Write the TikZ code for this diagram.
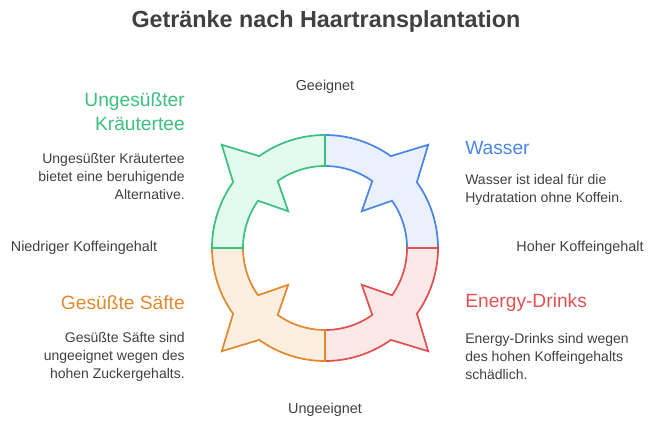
\documentclass[tikz,border=0pt]{standalone}
\usepackage{fontspec}
\setmainfont{Liberation Sans}
\usetikzlibrary{positioning, calc}
\definecolor{blueline}{HTML}{4A86E8}\definecolor{bluefill}{HTML}{EAF1FD}
\definecolor{greenline}{HTML}{3CC07F}\definecolor{greenfill}{HTML}{E3FBEE}
\definecolor{orangeline}{HTML}{E0892F}\definecolor{orangefill}{HTML}{FDEFE0}
\definecolor{redline}{HTML}{E05252}\definecolor{redfill}{HTML}{FDE8E8}
\definecolor{textgray}{HTML}{404040}
\tikzset{
  axislabel/.style={text=textgray, font=\fontsize{10.8}{12}\selectfont},
  heading/.style={font=\fontsize{14.4}{18}\selectfont, inner sep=0pt},
  desc/.style={text=textgray, font=\fontsize{10.5}{13.5}\selectfont, inner sep=0pt},
  segment/.style={line width=1.3pt, line join=miter}
}
% one quarter of the ring, #1 = angle offset
\newcommand{\ringpart}[3]{%
  \draw[segment, draw=#2, fill=#3] ($(ctr)+(#1-90:113)$)
    arc[start angle=#1-90, end angle=#1-54.4, radius=113]
    -- ($(ctr)+(#1-45:146)$) -- ($(ctr)+(#1-35.6:113)$)
    arc[start angle=#1-35.6, end angle=#1, radius=113]
    -- ($(ctr)+(#1:82)$)
    arc[start angle=#1, end angle=#1-35.2, radius=82]
    -- ($(ctr)+(#1-45:52)$) -- ($(ctr)+(#1-54.8:82)$)
    arc[start angle=#1-54.8, end angle=#1-90, radius=82] -- cycle;}
\begin{document}
\begin{tikzpicture}[x=0.75pt, y=-0.75pt]
    \useasboundingbox (0,0) rectangle (652,435);
    \coordinate (ctr) at (325,248);

    \node (title) at (326,21) [text=textgray, font=\fontsize{17.5}{20}\selectfont\bfseries] {Getränke nach Haartransplantation};

    \ringpart{0}{blueline}{bluefill}
    \ringpart{90}{redline}{redfill}
    \ringpart{180}{orangeline}{orangefill}
    \ringpart{270}{greenline}{greenfill}

    \node (top) at (325,87) [axislabel] {Geeignet};
    \node (bottom) at (325,410) [axislabel] {Ungeeignet};
    \node (left) at (84,248) [axislabel] {Niedriger Koffeingehalt};
    \node (right) at (580,248) [axislabel] {Hoher Koffeingehalt};

    \node (wasser) at (465,148) [heading, anchor=west, text=blueline] {Wasser};
    \node (wasser-d) [desc, align=left, below=14pt of wasser.south west, anchor=north west] {Wasser ist ideal für die\\Hydratation ohne Koffein.};

    \node (energy) at (465,303) [heading, anchor=west, text=redline] {Energy-Drinks};
    \node (energy-d) [desc, align=left, below=16pt of energy.south west, anchor=north west] {Energy-Drinks sind wegen\\des hohen Koffeingehalts\\schädlich.};

    \node (tee) at (185,112) [heading, anchor=east, align=right, text=greenline] {Ungesüßter\\Kräutertee};
    \node (tee-d) [desc, align=right, below=16pt of tee.south east, anchor=north east] {Ungesüßter Kräutertee\\bietet eine beruhigende\\Alternative.};

    \node (saft) at (185,303) [heading, anchor=east, text=orangeline] {Gesüßte Säfte};
    \node (saft-d) [desc, align=right, below=16pt of saft.south east, anchor=north east] {Gesüßte Säfte sind\\ungeeignet wegen des\\hohen Zuckergehalts.};
\end{tikzpicture}
\end{document}
